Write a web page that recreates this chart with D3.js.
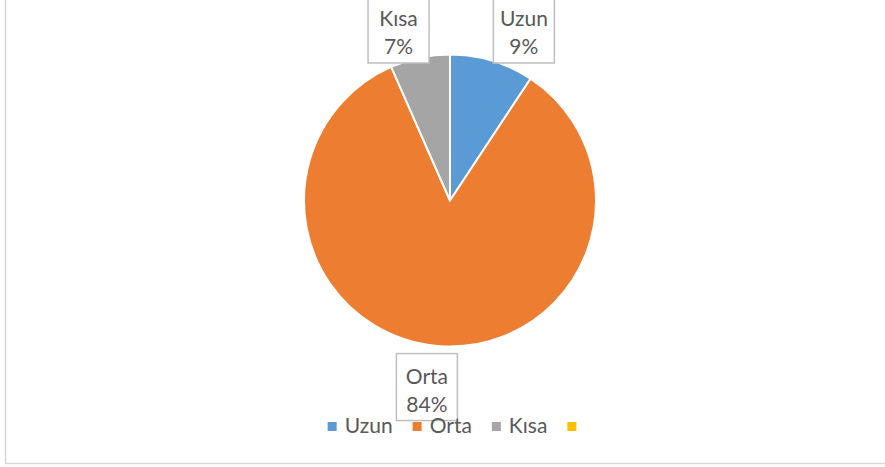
<!DOCTYPE html>
<html>
<head>
<meta charset="utf-8">
<script src="https://cdn.jsdelivr.net/npm/d3@7"></script>
<style>
  body { margin: 0; background: #fff; }
  svg { display: block; font-family: Lato, "Open Sans", sans-serif; }
</style>
</head>
<body>
<div id="chart"></div>
<script>
// data
var categories = ["Uzun", "Orta", "Kısa"];
var shares = [9.3, 84.1, 6.6];
// legend has a 4th empty entry in the original
var legendNames = ["Uzun", "Orta", "Kısa", ""];
var colors = ["#5B9BD5", "#ED7D31", "#A5A5A5", "#FFC000"];

var width = 885, height = 467;

var svg = d3.select("#chart").append("svg")
  .attr("width", width)
  .attr("height", height);

// chart frame (only left and bottom edges show in the crop)
svg.append("rect")
  .attr("x", 5.5).attr("y", -10)
  .attr("width", width + 20).attr("height", 473.5)
  .attr("fill", "none")
  .attr("stroke", "#D9D9D9")
  .attr("stroke-width", 1.5);

/////////////// pie ///////////////
var cx = 450, cy = 200.5, radius = 146;

var color = d3.scaleOrdinal(legendNames, colors);

var pie = d3.pie().sort(null).value(d => d.v);
var arcs = pie(categories.map((c, i) => ({ name: c, v: shares[i] })));

var arc = d3.arc().innerRadius(0).outerRadius(radius);

var g = svg.append("g").attr("transform", "translate(" + cx + "," + cy + ")");

g.selectAll("path")
  .data(arcs).enter().append("path")
  .attr("d", arc)
  .attr("fill", d => color(d.data.name))
  .attr("stroke", "#fff")
  .attr("stroke-width", 2)
  .attr("stroke-linejoin", "round");

/////////////// data labels ///////////////
var total = d3.sum(shares);
var boxW = 61, boxH = 67, labelR = 188;
var minTop = -4 - cy; // boxes can't go above the plot area top
// small angle nudges (degrees) so boxes sit like excel's best fit
var nudge = { "Uzun": 6.4, "Orta": 2.2, "Kısa": -4 };

var labels = g.selectAll("g.lbl")
  .data(arcs).enter().append("g")
  .attr("class", "lbl")
  .attr("transform", function (d) {
    var a = (d.startAngle + d.endAngle) / 2 + nudge[d.data.name] * Math.PI / 180;
    var x = labelR * Math.sin(a), y = -labelR * Math.cos(a);
    var top = Math.max(y - boxH / 2, minTop);
    return "translate(" + (x - boxW / 2) + "," + top + ")";
  });

labels.append("rect")
  .attr("width", boxW).attr("height", boxH)
  .attr("fill", "#fff")
  .attr("stroke", "#BFBFBF")
  .attr("stroke-width", 1.5);

labels.append("text")
  .attr("x", boxW / 2).attr("y", 30)
  .attr("text-anchor", "middle")
  .attr("font-size", "21px")
  .attr("fill", "#595959")
  .text(d => d.data.name);

labels.append("text")
  .attr("x", boxW / 2).attr("y", 58)
  .attr("text-anchor", "middle")
  .attr("font-size", "21px")
  .attr("fill", "#595959")
  .text(d => Math.round(d.data.v / total * 100) + "%");

/////////////// legend ///////////////
var sq = 9, gap = 8, spacing = 20, legendBase = 433;
var legend = svg.append("g");
var items = legend.selectAll("g")
  .data(legendNames).enter().append("g");

items.append("text")
  .attr("x", sq + gap).attr("y", legendBase)
  .attr("font-size", "21px")
  .attr("fill", "#595959")
  .text(d => d);

var xPos = 0;
items.each(function (d) {
  var w = this.querySelector("text").getComputedTextLength();
  d3.select(this).attr("data-x", xPos);
  xPos += sq + (d ? gap + w + spacing : 0);
});
var startX = cx + 2 - xPos / 2;
items.attr("transform", function () {
  return "translate(" + (startX + +this.getAttribute("data-x")) + ",0)";
});

items.append("rect")
  .attr("x", 0).attr("y", legendBase - 11)
  .attr("width", sq).attr("height", sq)
  .attr("fill", d => color(d));
</script>
</body>
</html>
